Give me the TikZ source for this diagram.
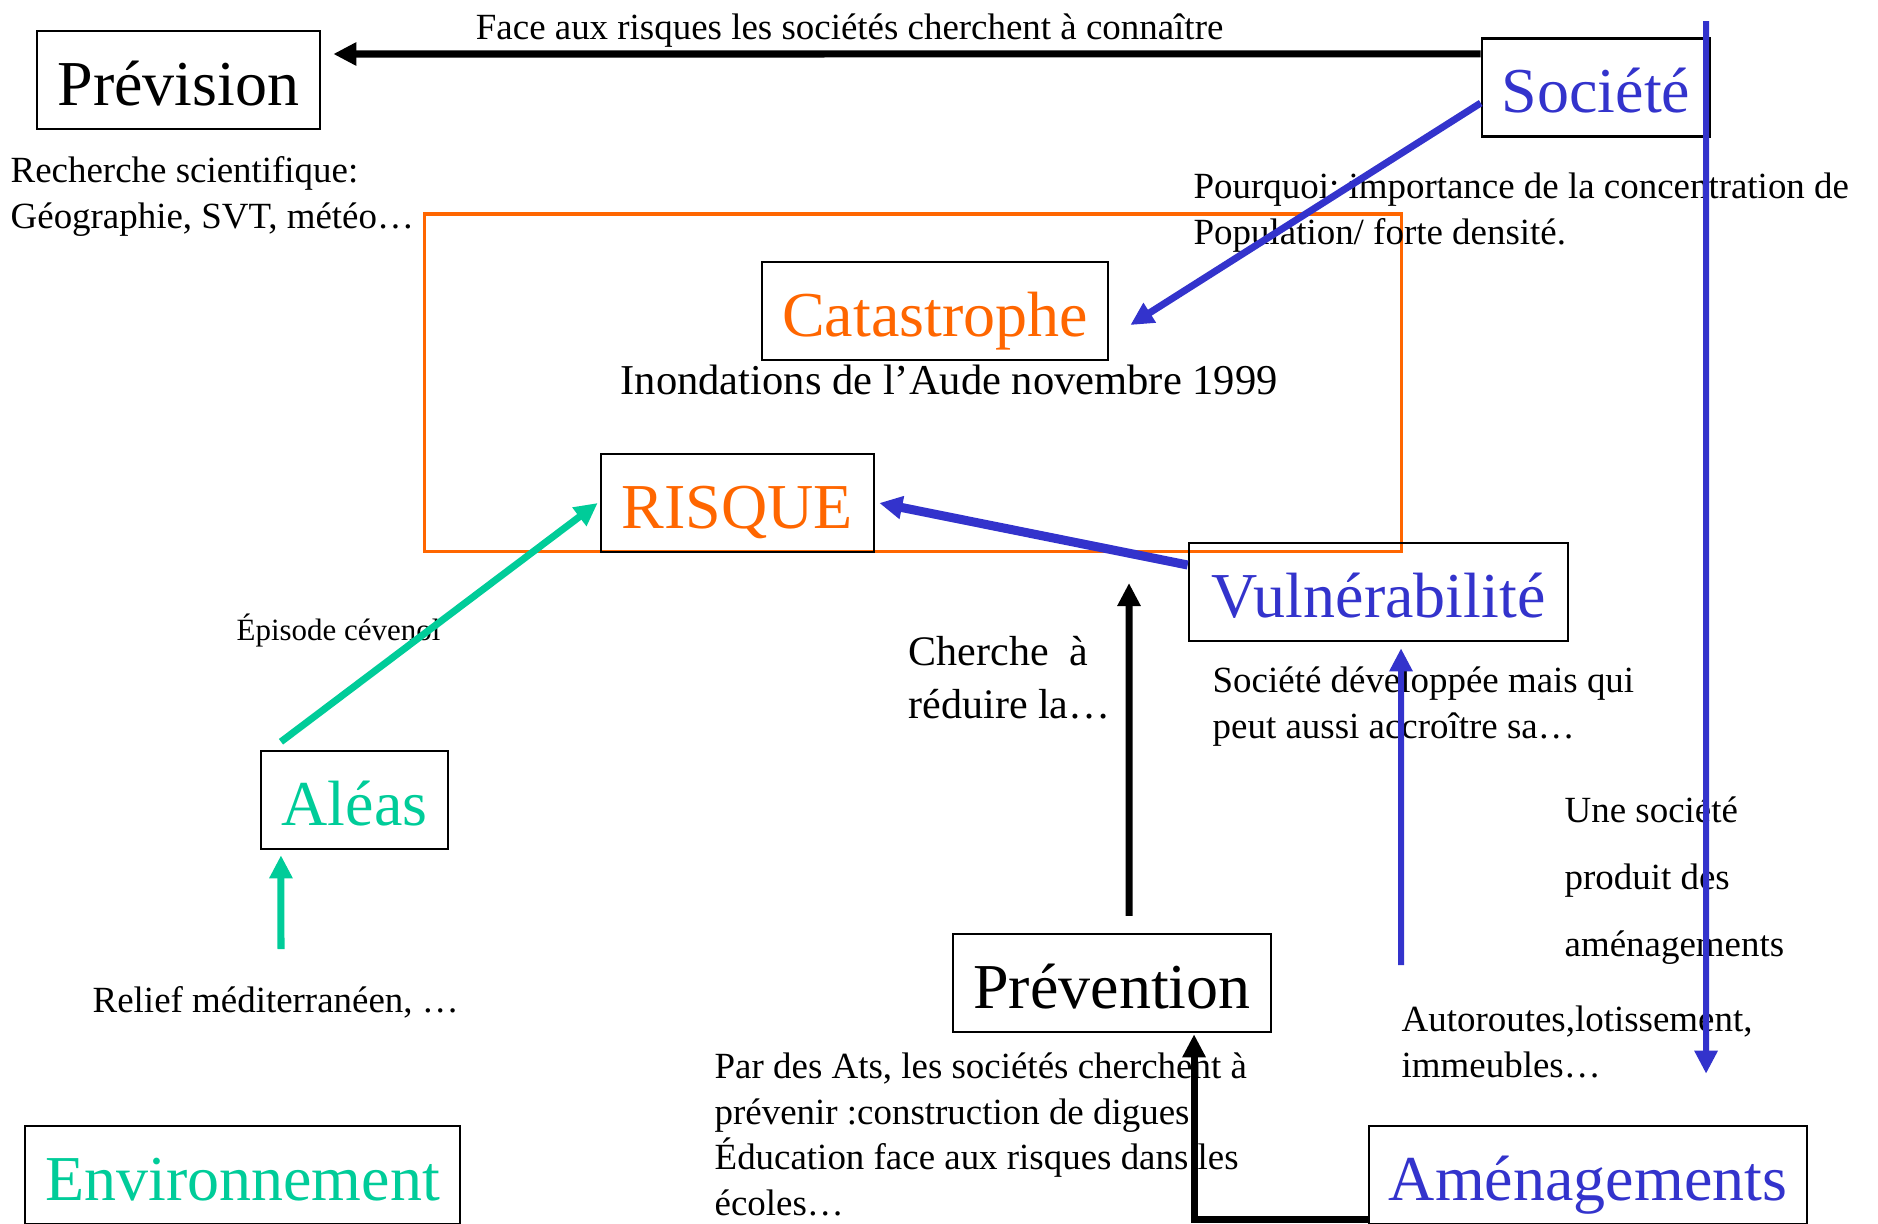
\documentclass[tikz,border=0pt]{standalone}
\usepackage{fontspec}
\setmainfont{Liberation Serif}
\frenchspacing
\usetikzlibrary{arrows.meta}
\definecolor{riskorange}{RGB}{255,102,0}
\definecolor{socblue}{RGB}{51,51,204}
\definecolor{aleagreen}{RGB}{0,204,153}
\tikzstyle{block} = [rectangle, draw=black, line width=0.7pt, minimum height=0.98cm, inner sep=0pt, text height=0.62cm, text depth=0.12cm, font=\fontsize{18.2}{21}\selectfont]
\tikzstyle{note} = [anchor=base west, align=left, inner sep=0pt, font=\fontsize{10.5}{12.9}\selectfont]
\tikzstyle{linktext} = [font=\fontsize{10.5}{12.9}\selectfont, inner sep=1pt]
\tikzstyle{link} = [line width=0.07cm, ->]

\begin{document}
\begin{tikzpicture}[x=0.01cm, y=-0.01cm, >={Triangle[length=0.23cm,width=0.22cm]}]
\useasboundingbox (0,0) rectangle (1878,1223);
\node [draw=riskorange, line width=0.9pt, minimum width=9.76cm, minimum height=3.37cm] (Cadre) at (913,382.5) {};

\node [block, minimum width=2.83cm] (Prevision) at (178.5,80) {Prévision};
\node [block, minimum width=2.28cm, text=socblue] (Societe) at (1596,87.5) {Société};
\node [block, minimum width=3.46cm, text=riskorange] (Catastrophe) at (935,311) {Catastrophe};
\node [block, minimum width=2.73cm, text=riskorange] (Risque) at (737.5,503) {RISQUE};
\node [block, minimum width=3.79cm, text=socblue] (Vulnerabilite) at (1378.5,592) {Vulnérabilité};
\node [block, minimum width=1.87cm, text=aleagreen] (Aleas) at (354.5,800) {Aléas};
\node [block, minimum width=3.18cm] (Prevention) at (1112,983) {Prévention};
\node [block, minimum width=4.35cm, text=aleagreen] (Environnement) at (242.5,1175) {Environnement};
\node [block, minimum width=4.38cm, text=socblue] (Amenagements) at (1588,1175) {Aménagements};

\node [note] (Recherche) at (10,228) {Recherche scientifique:\\Géographie, SVT, météo…};
\node [note] (Pourquoi) at (1193,244) {Pourquoi: importance de la concentration de\\Population/ forte densité.};
\node [note, font=\fontsize{12.1}{14.8}\selectfont] (Inondations) at (620,394) {Inondations de l’Aude novembre 1999};
\node [note, font=\fontsize{8.8}{10.5}\selectfont] (Episode) at (236,640) {Épisode cévenol};
\node [note, font=\fontsize{11.95}{14.8}\selectfont] (Cherche) at (908,718) {Cherche\ \ à\\réduire la…};
\node [note] (Developpee) at (1212,738) {Société développée mais qui\\peut aussi accroître sa…};
\node [note, font=\fontsize{10.5}{19}\selectfont] (Produit) at (1564,956) {Une société\\produit des\\aménagements};
\node [note] (Relief) at (92,1012) {Relief méditerranéen, …};
\node [note] (Autoroutes) at (1401,1077) {Autoroutes,lotissement,\\immeubles…};
\node [note] (ParDesAts) at (714,1215) {Par des Ats, les sociétés cherchent à\\prévenir :construction de digues\\Éducation face aux risques dans les\\écoles…};

\coordinate (reliefTop) at (281,949);
\coordinate (reduireTip) at (1129,583);
\coordinate (autoroutesTop) at (1401,965);

\draw [link] ([yshift=0.335cm]Societe.west) -- node [pos=0.55, above, linktext] {Face aux risques les sociétés cherchent à connaître} ([xshift=0.12cm,yshift=0.26cm]Prevision.east);
\draw [link, socblue] ([yshift=-0.155cm]Societe.west) -- ([xshift=0.21cm,yshift=-0.14cm]Catastrophe.east);
\draw [link, socblue, line width=0.09cm] ([yshift=0.27cm]Vulnerabilite.west) -- ([xshift=0.04cm]Risque.east);
\draw [link, aleagreen] ([xshift=-0.735cm,yshift=0.08cm]Aleas.north) -- ([xshift=-0.02cm]Risque.west);
\draw [link, aleagreen] (reliefTop) -- ([xshift=-0.735cm,yshift=-0.05cm]Aleas.south);
\draw [link] ([xshift=0.17cm,yshift=0.17cm]Prevention.north) -- (reduireTip);
\draw [link] ([yshift=-0.44cm]Amenagements.west) -| ([xshift=0.82cm,yshift=-0.01cm]Prevention.south);
\draw [link, socblue, line width=0.06cm] (autoroutesTop) -- ([xshift=0.225cm,yshift=-0.06cm]Vulnerabilite.south);
\draw [link, socblue, line width=0.06cm] ([xshift=1.1cm,yshift=0.16cm]Societe.north) -- ([xshift=1.18cm,yshift=0.51cm]Amenagements.north);

\end{tikzpicture}
\end{document}
